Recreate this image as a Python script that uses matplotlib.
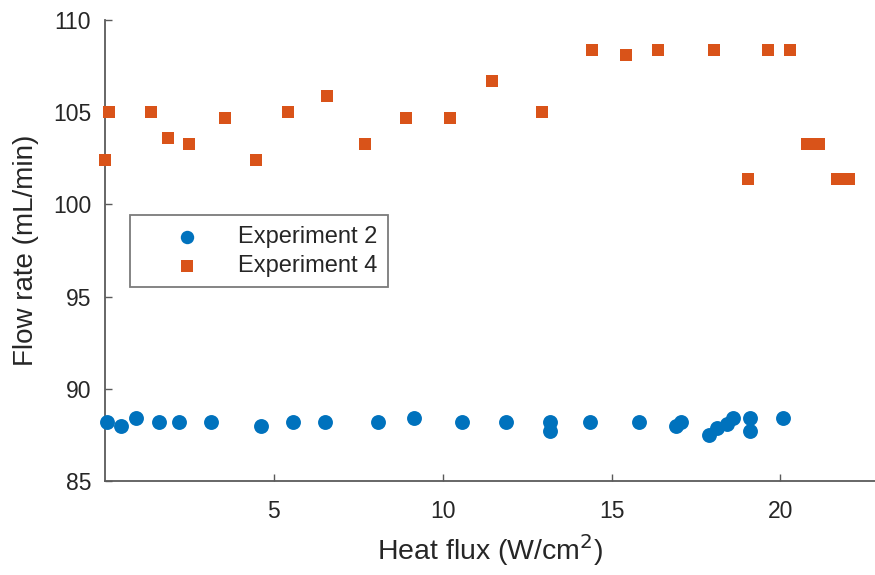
import matplotlib
matplotlib.use("Agg")
import matplotlib.pyplot as plt

plt.rcParams['font.family'] = ['Liberation Sans', 'DejaVu Sans']

exp2_x = [0.06, 0.46, 0.92, 1.59, 2.19, 3.15, 4.61, 5.58, 6.52, 8.07, 9.16, 10.58,
          11.88, 13.17, 13.17, 14.36, 15.82, 16.9, 17.05, 17.89, 18.11, 18.41, 18.61,
          19.1, 19.1, 20.09]
exp2_y = [88.2, 88.0, 88.4, 88.2, 88.2, 88.2, 88.0, 88.2, 88.2, 88.2, 88.4, 88.2,
          88.2, 88.2, 87.7, 88.2, 88.2, 88.0, 88.2, 87.5, 87.9, 88.1, 88.4,
          88.4, 87.7, 88.4]

exp4_x = [0.0, 0.13, 1.37, 1.87, 2.48, 3.54, 4.46, 5.43, 6.57, 7.71, 8.91, 10.22,
          11.46, 12.95, 14.42, 15.44, 16.38, 18.04, 19.64, 20.29, 20.78, 21.13,
          19.05, 21.67, 22.02]
exp4_y = [102.4, 105.0, 105.0, 103.6, 103.3, 104.7, 102.4, 105.0, 105.9, 103.3, 104.7, 104.7,
          106.7, 105.0, 108.4, 108.1, 108.4, 108.4, 108.4, 108.4, 103.3, 103.3,
          101.4, 101.4, 101.4]

x_ticks = [5, 10, 15, 20]
y_ticks = [85, 90, 95, 100, 105, 110]

fig = plt.figure(figsize=(8.75, 5.75), dpi=100)
ax = fig.add_axes([0.12, 0.1635, 0.88, 0.8015])

txt = '#262626'
spine_c = '#5a5a5a'

ax.scatter(exp2_x, exp2_y, s=115, marker='o', color='#0072BD', label='Experiment 2',
           zorder=3, linewidths=0, clip_on=False)
ax.scatter(exp4_x, exp4_y, s=80, marker='s', color='#D95319', label='Experiment 4',
           zorder=3, linewidths=0, clip_on=False)

ax.set_xlim(0, 22.8)
ax.set_ylim(85, 110)
ax.set_xticks(x_ticks)
ax.set_yticks(y_ticks)

for s in ['top', 'right']:
    ax.spines[s].set_visible(False)
for s in ['left', 'bottom']:
    ax.spines[s].set_color(spine_c)
    ax.spines[s].set_linewidth(1.3)

ax.tick_params(direction='in', length=5, width=1, colors=spine_c, labelcolor=txt,
               labelsize=16.5)
ax.tick_params(axis='x', pad=14)
ax.tick_params(axis='y', pad=10)

ax.set_xlabel('Heat flux (W/cm$^2$)', fontsize=20.5, color=txt, labelpad=6)
ax.set_ylabel('Flow rate (mL/min)', fontsize=20, color=txt, labelpad=10)

leg = ax.legend(loc='lower left', bbox_to_anchor=(0.033, 0.42), fontsize=17,
                frameon=True, fancybox=False, edgecolor=spine_c, borderpad=0.45,
                handletextpad=0.2, labelspacing=0.3, borderaxespad=0, handlelength=3.9,
                markerscale=0.9)
leg.get_frame().set_linewidth(1.3)
for t in leg.get_texts():
    t.set_color(txt)

fig.savefig('out.png', dpi=100)
